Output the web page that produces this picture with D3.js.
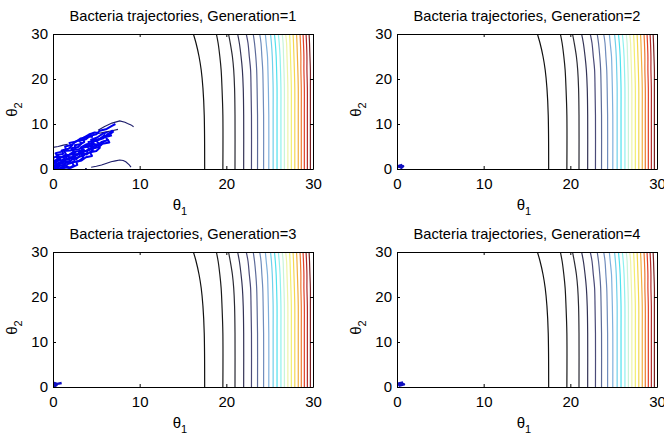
<!DOCTYPE html>
<html>
<head>
<meta charset="utf-8">
<script src="https://cdn.jsdelivr.net/npm/d3@7"></script>
<style>
  body { margin: 0; background: #fff; }
  svg { display: block; }
  text { font-family: "Liberation Sans", Arial, sans-serif; fill: #000; }
</style>
</head>
<body>
<svg id="chart" width="664" height="436"></svg>
<script>
// ---- data ----
const ticks = [0, 10, 20, 30];
const generations = [1, 2, 3, 4];

// theta2 values where each contour's theta1 was read
const contourTheta2 = [0, 12, 18, 22, 25, 28, 30];
// theta1 of each contour at those theta2 values
const contourTheta1 = [
  [17.5, 17.45, 17.3, 17.1, 16.85, 16.5, 16.2],
  [19.6, 19.6, 19.5, 19.4, 19.25, 19.05, 18.85],
  [21.0, 21.0, 20.95, 20.85, 20.7, 20.45, 20.25],
  [22.0, 22.0, 21.95, 21.85, 21.7, 21.5, 21.3],
  [22.9, 22.9, 22.85, 22.8, 22.65, 22.5, 22.3],
  [23.6, 23.6, 23.55, 23.5, 23.4, 23.25, 23.1],
  [24.3, 24.3, 24.25, 24.2, 24.1, 24.0, 23.85],
  [24.9, 24.9, 24.85, 24.8, 24.75, 24.6, 24.5],
  [25.4, 25.4, 25.4, 25.35, 25.3, 25.2, 25.1],
  [25.85, 25.85, 25.85, 25.8, 25.75, 25.65, 25.55],
  [26.3, 26.3, 26.3, 26.25, 26.2, 26.1, 26.0],
  [26.7, 26.7, 26.7, 26.65, 26.6, 26.55, 26.45],
  [27.1, 27.1, 27.1, 27.05, 27.0, 26.95, 26.85],
  [27.5, 27.5, 27.5, 27.45, 27.4, 27.35, 27.3],
  [27.9, 27.9, 27.9, 27.85, 27.8, 27.75, 27.7],
  [28.3, 28.3, 28.3, 28.25, 28.2, 28.15, 28.1],
  [28.65, 28.65, 28.65, 28.6, 28.6, 28.55, 28.5],
  [29.0, 29.0, 29.0, 28.95, 28.95, 28.9, 28.85],
  [29.35, 29.35, 29.35, 29.3, 29.3, 29.25, 29.2],
  [29.7, 29.7, 29.7, 29.7, 29.65, 29.6, 29.55]
];
const contourColors = [
  '#111111', '#1a1a1a', '#2a2a33', '#333355', '#4a4a78', '#5c6a98', '#6f8cbc',
  '#7fb0dc', '#6fd0ea', '#50e2ee', '#8ff0ee', '#c8f4d8', '#eef4a8', '#f2ee70',
  '#f4d850', '#f2b040', '#ee7a30', '#e04028', '#b02a28', '#782020'
];

// bacteria trajectories [theta1, theta2] per generation
const gen1Paths = [
  [[0,0],[0.5,0.4],[0.3,1.1],[1.0,1.4],[1.4,2.1],[1.1,2.8],[1.9,3.2],[2.4,3.9],[2.1,4.6],[2.9,4.9],[3.3,5.7],[3.0,6.3],[3.8,6.6],[4.3,7.4],[5.0,7.7],[5.4,8.5],[6.2,8.9],[6.8,9.6],[7.2,10.0]],
  [[0.2,0],[0.9,0.2],[1.4,0.8],[1.2,1.6],[2.0,1.8],[2.5,2.5],[2.3,3.2],[3.1,3.4],[3.6,4.1],[3.4,4.8],[4.2,5.0],[4.7,5.7],[4.5,6.4],[5.3,6.6],[5.9,7.3],[6.5,7.6],[7.0,8.4]],
  [[0,0.6],[0.5,1.1],[0.2,1.9],[0.8,2.3],[0.5,3.1],[1.2,3.4],[1.0,4.1],[1.8,4.5],[2.2,5.2],[1.9,5.8],[2.7,6.1],[3.2,6.8],[3.9,7.1],[4.4,7.9]],
  [[0.7,0],[1.3,0.4],[1.9,0.2],[2.4,0.8],[2.2,1.5],[3.0,1.8],[3.5,2.5],[3.3,3.2],[4.1,3.5],[4.6,4.2],[4.4,4.9],[5.1,5.3],[5.6,6.0],[6.3,6.4],[6.1,7.1],[6.8,7.5]],
  [[0,0.2],[0.4,0.9],[1.0,0.7],[1.5,1.3],[1.4,2.0],[2.0,2.4],[2.7,2.2],[3.1,2.9],[3.0,3.7],[3.8,4.0],[4.3,4.6],[4.9,4.8],[5.3,5.6],[5.0,6.3],[5.8,6.8],[6.4,7.9],[6.9,8.6]],
  [[0.1,0.1],[0.2,0.8],[0.7,1.4],[1.4,1.7],[1.9,1.2],[2.5,1.6],[2.4,2.3],[3.0,2.7],[3.6,3.0],[3.5,3.8],[4.2,4.3],[4.0,5.0],[4.8,5.5],[5.5,5.4],[5.9,6.2]],
  [[0,1.5],[0.6,2.0],[0.4,2.7],[1.1,2.6],[1.5,3.3],[1.3,4.0],[2.0,4.1],[2.6,4.5],[2.5,5.3],[3.1,5.5],[3.6,6.0],[3.5,6.9],[4.1,7.6],[4.8,8.1],[5.3,8.0]],
  [[1.0,0],[1.6,0.5],[2.1,0.3],[2.8,0.9],[2.7,1.6],[3.3,1.9],[3.8,2.6],[4.5,2.9],[4.3,3.7],[5.0,4.0],[5.4,4.7],[5.2,5.3]],
  [[0,0],[0.6,0.3],[0.4,1.0],[1.1,1.2],[0.9,1.9],[1.6,2.3],[1.4,3.0],[2.1,3.2],[2.7,3.9],[3.4,4.1],[3.2,4.8],[3.9,5.5],[4.5,5.7],[4.4,6.5],[5.1,7.0],[5.7,7.8],[6.3,8.2]],
  [[0,2.4],[0.5,2.9],[0.3,3.5],[0.9,3.8],[1.5,4.3],[1.4,5.0],[2.2,5.4],[2.7,6.2],[3.4,6.5],[4.0,7.3],[4.6,7.1]],
  [[0.3,0],[0.8,0.7],[1.6,0.9],[2.0,1.6],[1.8,2.4],[2.6,2.9],[3.2,3.5],[3.9,3.2],[4.0,4.1],[4.7,4.6],[5.3,4.9],[5.7,5.6],[6.5,5.9],[6.3,6.6]],
  [[0,1.0],[0.3,1.7],[0.9,1.9],[0.7,2.5],[1.6,2.8],[2.2,2.5],[2.5,3.4],[2.3,4.2],[3.0,4.4],[3.7,5.1],[4.3,5.2],[4.1,6.0],[4.9,6.2],[5.6,6.9],[6.0,7.7]]
];
// the thin outlying tails of generation 1
const gen1Tails = [
  [[5.2,8.6],[5.9,9.4],[6.8,10.2],[7.7,10.7],[8.3,10.4],[8.6,10.1],[9.0,9.8],[9.3,9.4]],
  [[5.2,7.9],[6.0,8.2],[6.8,8.5],[7.5,8.8]],
  [[0,4.8],[0.6,5.0],[1.2,5.3],[1.7,5.5]],
  [[3.7,0.1],[3.9,0.1]],
  [[4.4,0.4],[5.0,0.6],[5.6,0.9],[6.2,1.3],[6.7,1.6],[7.2,1.8],[7.7,2.0],[8.1,1.9],[8.4,1.6],[8.8,0.9],[9.0,0.4]]
];
const gen2Paths = [
  [[0.1,0.4],[0.4,0.8],[0.7,0.6],[0.5,0.3],[0.2,0.7],[0.6,0.9]]
];
const gen3Paths = [
  [[0,0.3],[0.3,0.6],[0.1,0.9],[0.5,0.7],[1.0,0.9]],
  [[0.1,0.1],[0.4,0.4],[0.2,0.8]]
];
const gen4Paths = [
  [[0.1,0.4],[0.5,0.9],[0.8,0.6],[0.3,0.3],[0.2,0.8],[0.7,1.0]]
];
const trajectories = [gen1Paths, gen2Paths, gen3Paths, gen4Paths];
const tails = [gen1Tails, [], [], []];

// ---- layout ----
const panels = [
  { left: 53, top: 34 },
  { left: 397, top: 34 },
  { left: 53, top: 252 },
  { left: 397, top: 252 }
];
const plotW = 260, plotH = 135;

const svg = d3.select('#chart');

panels.forEach((p, i) => {
  const x = d3.scaleLinear().domain([0, 30]).range([0, plotW]);
  const y = d3.scaleLinear().domain([0, 30]).range([plotH, 0]);
  const g = svg.append('g').attr('transform', `translate(${p.left},${p.top})`);

  g.append('clipPath').attr('id', 'clip' + i)
    .append('rect').attr('width', plotW).attr('height', plotH);

  const plot = g.append('g').attr('clip-path', `url(#clip${i})`);

  // contours
  const cline = d3.line()
    .x(d => x(d[0]))
    .y(d => y(d[1]))
    .curve(d3.curveCatmullRom);
  plot.selectAll('path.contour')
    .data(contourTheta1)
    .join('path')
    .attr('class', 'contour')
    .attr('d', row => cline(row.map((v, k) => [v, contourTheta2[k]])))
    .attr('fill', 'none')
    .attr('stroke', (d, k) => contourColors[k])
    .attr('stroke-width', 1.2);

  // trajectories
  const tline = d3.line().x(d => x(d[0])).y(d => y(d[1]));
  plot.selectAll('path.tail')
    .data(tails[i])
    .join('path')
    .attr('class', 'tail')
    .attr('d', tline)
    .attr('fill', 'none')
    .attr('stroke', '#1c1c6a')
    .attr('stroke-width', 1.1);
  plot.selectAll('path.traj')
    .data(trajectories[i])
    .join('path')
    .attr('class', 'traj')
    .attr('d', tline)
    .attr('fill', 'none')
    .attr('stroke', i === 0 ? '#0000f0' : '#1010c0')
    .attr('stroke-width', i === 0 ? 2 : 2.5)
    .attr('stroke-linejoin', 'round');

  // axes, MATLAB style: ticks inside, on all four sides
  const tickLen = 3;
  const xb = g.append('g').attr('transform', `translate(0,${plotH})`)
    .call(d3.axisBottom(x).tickValues(ticks).tickSizeInner(-tickLen).tickSizeOuter(0).tickPadding(9));
  const xt = g.append('g')
    .call(d3.axisTop(x).tickValues(ticks).tickSizeInner(-tickLen).tickSizeOuter(0).tickFormat(''));
  const yl = g.append('g')
    .call(d3.axisLeft(y).tickValues(ticks).tickSizeInner(-tickLen).tickSizeOuter(0).tickPadding(5));
  const yr = g.append('g').attr('transform', `translate(${plotW},0)`)
    .call(d3.axisRight(y).tickValues(ticks).tickSizeInner(-tickLen).tickSizeOuter(0).tickFormat(''));
  [xb, xt, yl, yr].forEach(a => {
    a.select('.domain').attr('stroke', '#000').attr('stroke-width', 1);
    a.selectAll('.tick line').attr('stroke', '#000');
    a.selectAll('.tick text').style('font-size', '15px')
      .style('font-family', '"Liberation Sans", Arial, sans-serif').attr('fill', '#000');
  });

  // title
  g.append('text')
    .attr('x', plotW / 2).attr('y', -13)
    .attr('text-anchor', 'middle')
    .attr('textLength', 227).attr('lengthAdjust', 'spacingAndGlyphs')
    .style('font-size', '15px')
    .text(`Bacteria trajectories, Generation=${generations[i]}`);

  // x label θ1
  const xl = g.append('text')
    .attr('x', plotW / 2 - 3).attr('y', plotH + 41)
    .attr('text-anchor', 'middle')
    .style('font-size', '15px');
  xl.append('tspan').text('θ');
  xl.append('tspan').attr('dy', 5).style('font-size', '11px').text('1');

  // y label θ2
  const ylab = g.append('text')
    .attr('transform', `translate(-36,${plotH / 2 + 8}) rotate(-90)`)
    .attr('text-anchor', 'middle')
    .style('font-size', '15px');
  ylab.append('tspan').text('θ');
  ylab.append('tspan').attr('dy', 5).style('font-size', '11px').text('2');
});
</script>
</body>
</html>
